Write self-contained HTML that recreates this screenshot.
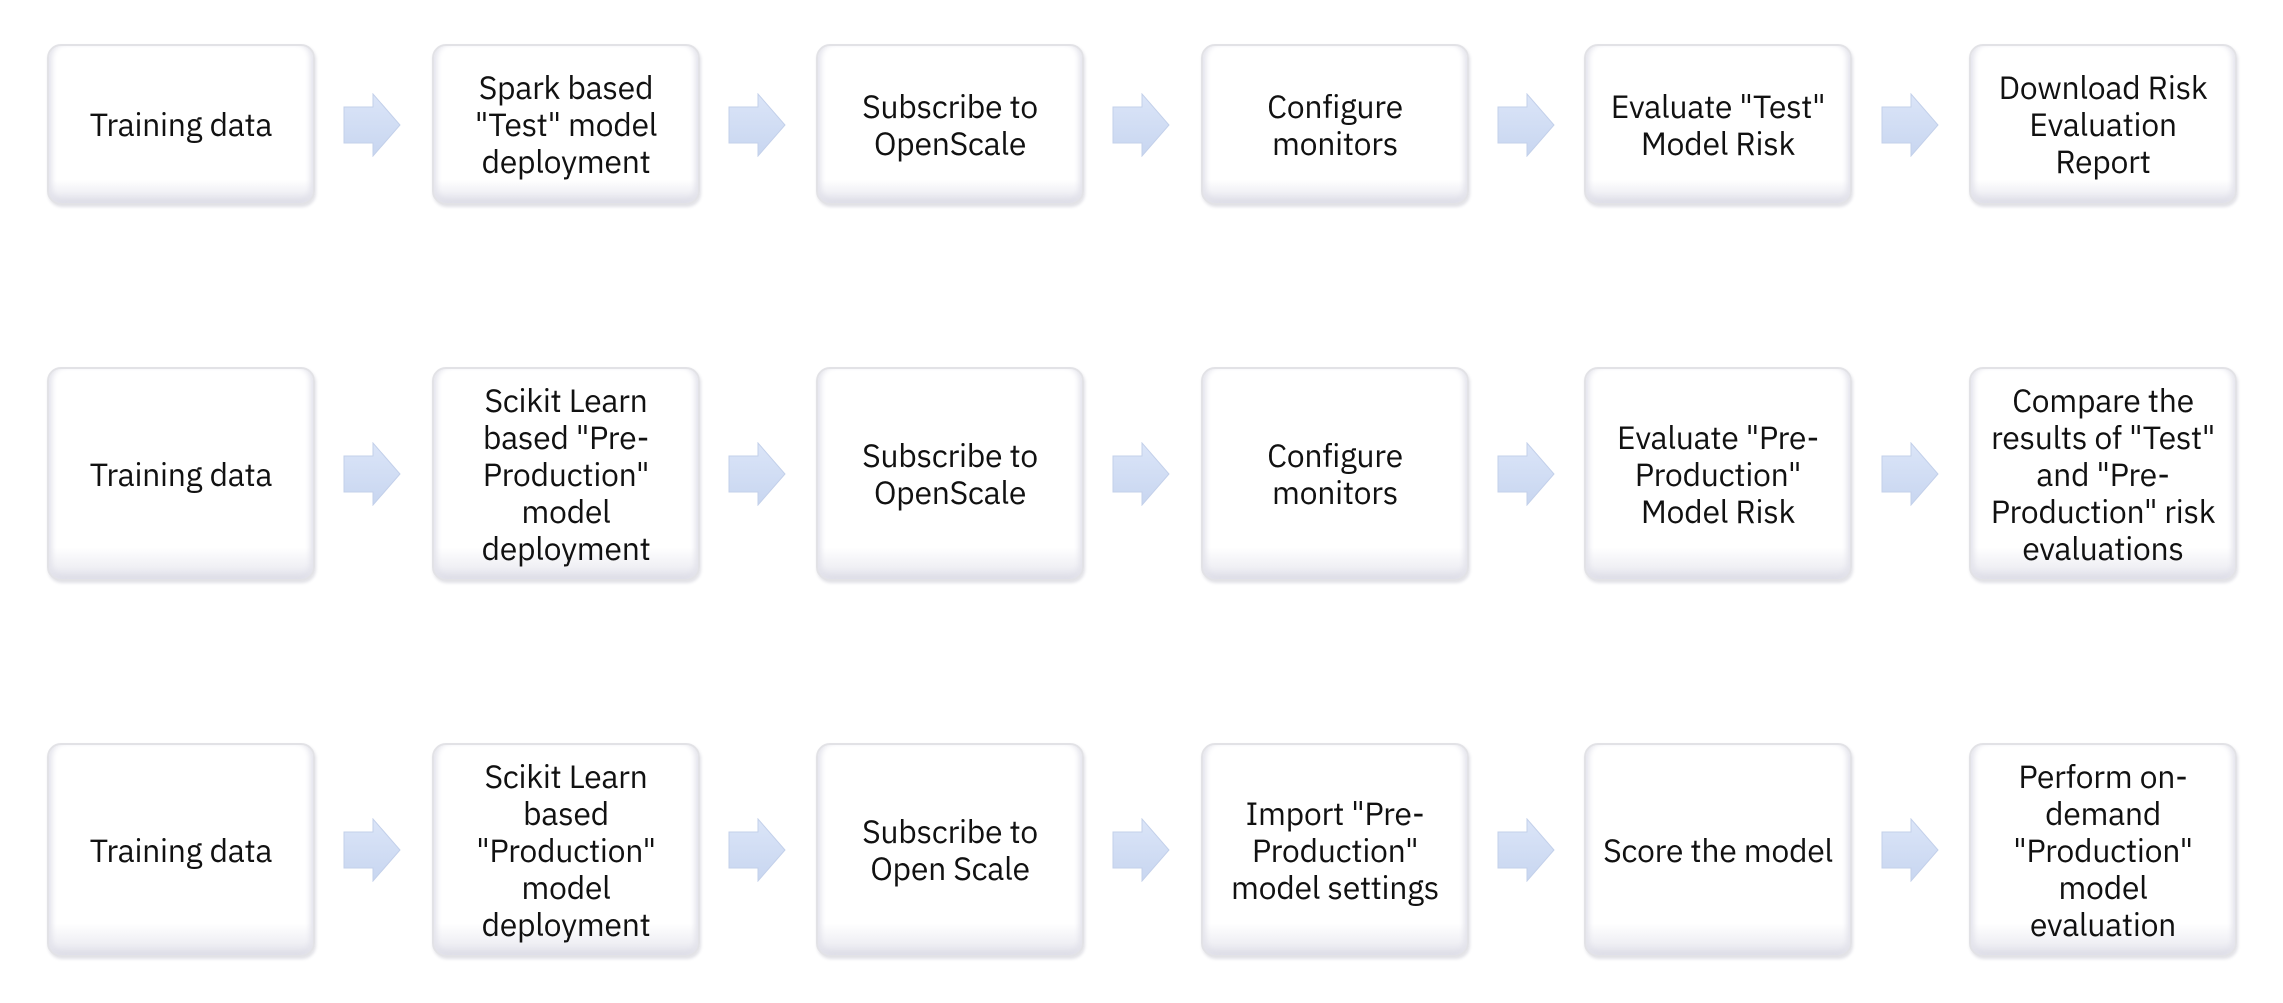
<!DOCTYPE html>
<html><head><meta charset="utf-8"><style>
body{margin:0;width:2283px;height:1003px;background:#fff;position:relative;overflow:hidden;font-family:"IBM Plex Sans","Liberation Sans",sans-serif;}
.b{position:absolute;width:268px;box-sizing:border-box;border:2px solid #e2e2e6;border-radius:14px;
background:linear-gradient(180deg,#fff 0%,#fff 85%,#e6e6ee 100%);
box-shadow:inset 6px 0 6px -3px #e4e4ec, inset -6px 0 6px -3px #e4e4ec, inset 0 -8px 8px -4px #dcdce6, 1px 2px 3px #e0e0e6;
display:flex;align-items:center;justify-content:center;text-align:center;font-size:32px;line-height:37px;color:#111;padding:0 4px;letter-spacing:-0.3px;white-space:nowrap;}
svg.a{position:absolute;width:58px;height:64px;}
</style></head><body>
<svg width="0" height="0" style="position:absolute"><defs><linearGradient id="g" x1="0" y1="0" x2="0" y2="1"><stop offset="0" stop-color="#dbe5f8"/><stop offset="1" stop-color="#c8d6f0"/></linearGradient></defs></svg>
<div class="b" style="left:47px;top:44px;height:161px">Training data</div>
<div class="b" style="left:432px;top:44px;height:161px">Spark based<br>"Test" model<br>deployment</div>
<div class="b" style="left:816px;top:44px;height:161px">Subscribe to<br>OpenScale</div>
<div class="b" style="left:1201px;top:44px;height:161px">Configure<br>monitors</div>
<div class="b" style="left:1584px;top:44px;height:161px">Evaluate "Test"<br>Model Risk</div>
<div class="b" style="left:1969px;top:44px;height:161px">Download Risk<br>Evaluation<br>Report</div>
<div class="b" style="left:47px;top:367px;height:214px">Training data</div>
<div class="b" style="left:432px;top:367px;height:214px">Scikit Learn<br>based "Pre-<br>Production"<br>model<br>deployment</div>
<div class="b" style="left:816px;top:367px;height:214px">Subscribe to<br>OpenScale</div>
<div class="b" style="left:1201px;top:367px;height:214px">Configure<br>monitors</div>
<div class="b" style="left:1584px;top:367px;height:214px">Evaluate "Pre-<br>Production"<br>Model Risk</div>
<div class="b" style="left:1969px;top:367px;height:214px">Compare the<br>results of "Test"<br>and "Pre-<br>Production" risk<br>evaluations</div>
<div class="b" style="left:47px;top:743px;height:214px">Training data</div>
<div class="b" style="left:432px;top:743px;height:214px">Scikit Learn<br>based<br>"Production"<br>model<br>deployment</div>
<div class="b" style="left:816px;top:743px;height:214px">Subscribe to<br>Open Scale</div>
<div class="b" style="left:1201px;top:743px;height:214px">Import "Pre-<br>Production"<br>model settings</div>
<div class="b" style="left:1584px;top:743px;height:214px">Score the model</div>
<div class="b" style="left:1969px;top:743px;height:214px">Perform on-<br>demand<br>"Production"<br>model<br>evaluation</div>
<div id="arrows"></div>
<script>
var rows=[125,474,850],xs=[343,728,1112,1497,1881];
var h='';
rows.forEach(function(cy){xs.forEach(function(x){
h+='<svg class="a" style="left:'+x+'px;top:'+(cy-32)+'px" viewBox="0 0 58 64"><polygon points="1,14 30,14 30,1 57,32 30,63 30,50 1,50" fill="url(#g)" stroke="#c3d0ea" stroke-width="1"/></svg>';
});});
document.getElementById('arrows').innerHTML=h;
</script>
</body></html>
